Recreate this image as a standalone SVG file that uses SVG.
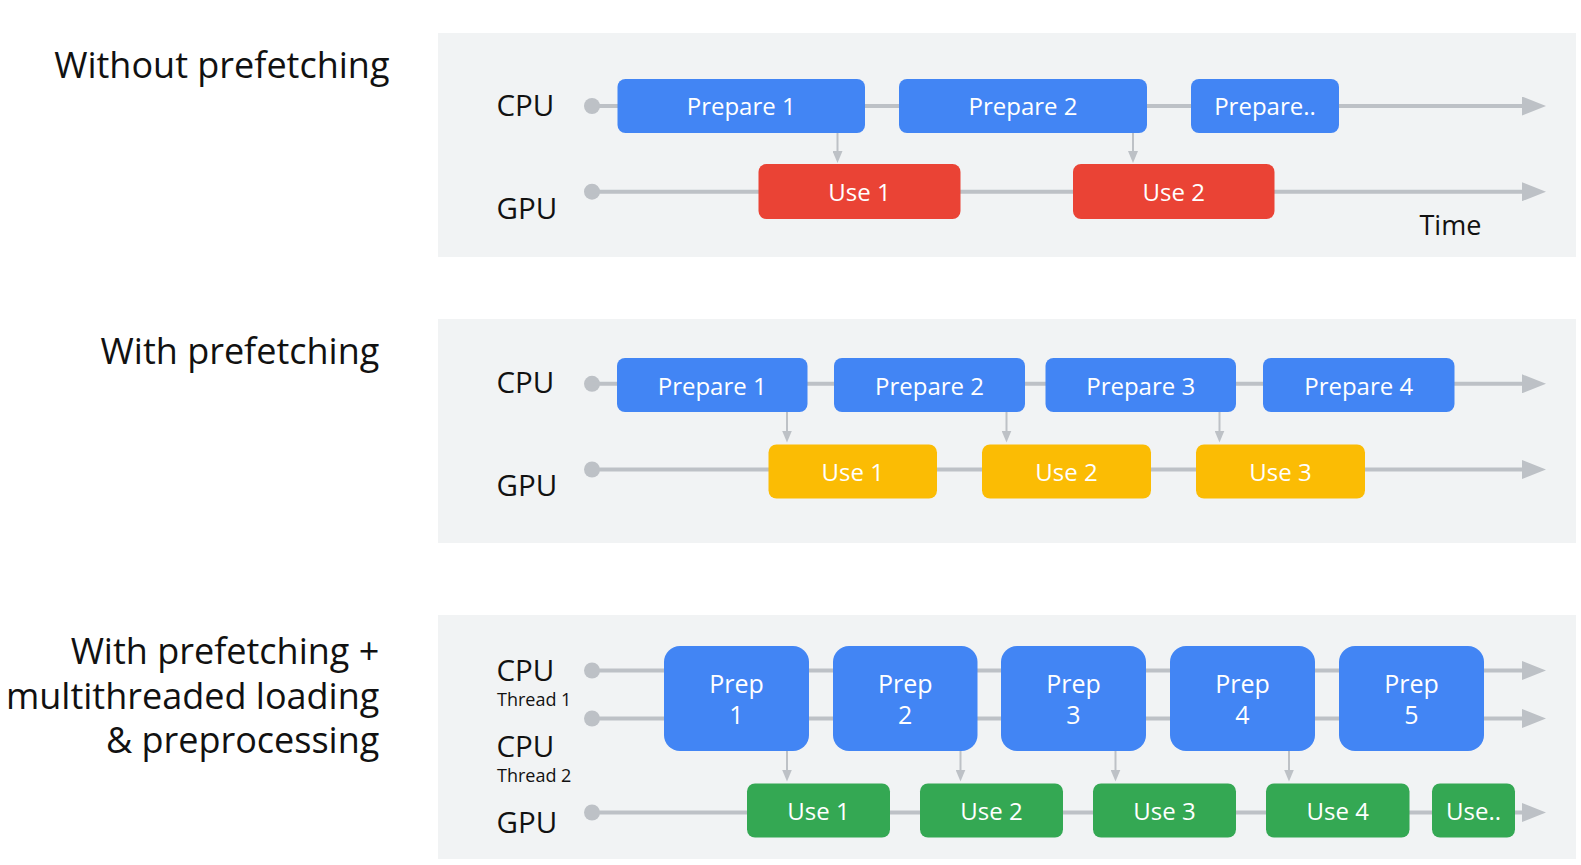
<svg xmlns="http://www.w3.org/2000/svg" width="1581" height="865" viewBox="0 0 1581 865">
<defs>
<style>
.panel{fill:#f1f3f4}
.title{font-family:"Open Sans","Noto Sans",sans-serif;font-size:36px;fill:#111;text-anchor:end}
.lbl{font-family:"Open Sans","Noto Sans",sans-serif;font-size:29.5px;fill:#111}
.sub{font-family:"Open Sans","Noto Sans",sans-serif;font-size:18px;fill:#111}
.bt{font-family:"Open Sans","Noto Sans",sans-serif;font-size:24px;fill:#fff;text-anchor:middle}
.pt{font-family:"Open Sans","Noto Sans",sans-serif;font-size:25px;fill:#fff;text-anchor:middle}
.blue{fill:#4285f4}
.red{fill:#ea4335}
.yellow{fill:#fbbc04}
.green{fill:#34a853}
.tl{stroke:#bdc1c6;stroke-width:4;fill:none;marker-end:url(#bigHead)}
.dot{fill:#bdc1c6}
.dn{stroke:#bdc1c6;stroke-width:2;fill:none;marker-end:url(#smallHead)}
</style>
<marker id="bigHead" viewBox="0 0 24 19" markerUnits="userSpaceOnUse" markerWidth="24" markerHeight="19" refX="2" refY="9.5" orient="auto">
<path d="M0,0 L24,9.5 L0,19 z" fill="#bdc1c6"/>
</marker>
<marker id="smallHead" viewBox="0 0 12 10" markerUnits="userSpaceOnUse" markerWidth="12" markerHeight="10" refX="1" refY="5" orient="auto">
<path d="M0,0 L12,5 L0,10 z" fill="#bdc1c6"/>
</marker>
</defs>
<rect width="1581" height="865" fill="#fff"/>

<!-- panels -->
<g id="panels">
<rect class="panel" x="438" y="33" width="1138" height="224"/>
<rect class="panel" x="438" y="319" width="1138" height="224"/>
<rect class="panel" x="438" y="615" width="1138" height="244"/>
</g>

<!-- titles -->
<g id="titles">
<text class="title" x="389.5" y="77.5">Without prefetching</text>
<text class="title" x="379.3" y="363.5">With prefetching</text>
<text class="title" x="379.3" y="664">With prefetching +</text>
<text class="title" x="379.3" y="708.5">multithreaded loading</text>
<text class="title" x="379.3" y="753">&amp; preprocessing</text>
</g>

<!-- row labels -->
<g id="row-labels">
<text class="lbl" x="496.5" y="115.7">CPU</text>
<text class="lbl" x="496.5" y="219">GPU</text>
<text class="lbl" x="1419.5" y="235" style="font-size:27px">Time</text>
<text class="lbl" x="496.5" y="393.3">CPU</text>
<text class="lbl" x="496.5" y="496">GPU</text>
<text class="lbl" x="496.5" y="680.7">CPU</text>
<text class="sub" x="497" y="706">Thread 1</text>
<text class="lbl" x="496.5" y="756.7">CPU</text>
<text class="sub" x="497" y="781.7">Thread 2</text>
<text class="lbl" x="496.5" y="832.7">GPU</text>
</g>

<!-- connectors -->
<g id="connectors">
<circle class="dot" cx="592" cy="106" r="8"/>
<line class="tl" x1="592" y1="106" x2="1524" y2="106"/>
<circle class="dot" cx="592" cy="191.7" r="8"/>
<line class="tl" x1="592" y1="191.7" x2="1524" y2="191.7"/>
<line class="dn" x1="837.5" y1="133" x2="837.5" y2="152"/>
<line class="dn" x1="1133" y1="133" x2="1133" y2="152"/>

<circle class="dot" cx="592" cy="383.8" r="8"/>
<line class="tl" x1="592" y1="383.8" x2="1524" y2="383.8"/>
<circle class="dot" cx="592" cy="469.5" r="8"/>
<line class="tl" x1="592" y1="469.5" x2="1524" y2="469.5"/>
<line class="dn" x1="787" y1="412" x2="787" y2="431.5"/>
<line class="dn" x1="1006.5" y1="412" x2="1006.5" y2="431.5"/>
<line class="dn" x1="1219.5" y1="412" x2="1219.5" y2="431.5"/>

<circle class="dot" cx="592" cy="670.5" r="8"/>
<line class="tl" x1="592" y1="670.5" x2="1524" y2="670.5"/>
<circle class="dot" cx="592" cy="718.5" r="8"/>
<line class="tl" x1="592" y1="718.5" x2="1524" y2="718.5"/>
<circle class="dot" cx="592" cy="812.5" r="8"/>
<line class="tl" x1="592" y1="812.5" x2="1524" y2="812.5"/>
<line class="dn" x1="787" y1="751" x2="787" y2="770.5"/>
<line class="dn" x1="960.5" y1="751" x2="960.5" y2="770.5"/>
<line class="dn" x1="1115.5" y1="751" x2="1115.5" y2="770.5"/>
<line class="dn" x1="1289" y1="751" x2="1289" y2="770.5"/>
</g>

<!-- panel 1 nodes -->
<g id="p1-prepare1"><rect class="blue" x="617.5" y="79" width="247.5" height="54" rx="8"/><text class="bt" x="741.2" y="114.7">Prepare 1</text></g>
<g id="p1-prepare2"><rect class="blue" x="899" y="79" width="248" height="54" rx="8"/><text class="bt" x="1023" y="114.7">Prepare 2</text></g>
<g id="p1-prepare-more"><rect class="blue" x="1191" y="79" width="148" height="54" rx="8"/><text class="bt" x="1265" y="114.7">Prepare..</text></g>
<g id="p1-use1"><rect class="red" x="758.5" y="164" width="202" height="55" rx="8"/><text class="bt" x="859.5" y="200.5">Use 1</text></g>
<g id="p1-use2"><rect class="red" x="1073" y="164" width="201.5" height="55" rx="8"/><text class="bt" x="1173.7" y="200.5">Use 2</text></g>

<!-- panel 2 nodes -->
<g id="p2-prepare1"><rect class="blue" x="617" y="358" width="190.5" height="54" rx="8"/><text class="bt" x="712.2" y="394.5">Prepare 1</text></g>
<g id="p2-prepare2"><rect class="blue" x="834" y="358" width="191" height="54" rx="8"/><text class="bt" x="929.5" y="394.5">Prepare 2</text></g>
<g id="p2-prepare3"><rect class="blue" x="1045.5" y="358" width="190.5" height="54" rx="8"/><text class="bt" x="1140.7" y="394.5">Prepare 3</text></g>
<g id="p2-prepare4"><rect class="blue" x="1263" y="358" width="191.5" height="54" rx="8"/><text class="bt" x="1358.7" y="394.5">Prepare 4</text></g>
<g id="p2-use1"><rect class="yellow" x="768.5" y="444.5" width="168.5" height="54" rx="8"/><text class="bt" x="852.7" y="481">Use 1</text></g>
<g id="p2-use2"><rect class="yellow" x="982" y="444.5" width="169" height="54" rx="8"/><text class="bt" x="1066.5" y="481">Use 2</text></g>
<g id="p2-use3"><rect class="yellow" x="1196" y="444.5" width="169" height="54" rx="8"/><text class="bt" x="1280.5" y="481">Use 3</text></g>

<!-- panel 3 nodes -->
<g id="p3-prep1"><rect class="blue" x="664" y="646" width="145" height="105" rx="16"/><text class="pt" x="736.5" y="692.7">Prep</text><text class="pt" x="736.5" y="724">1</text></g>
<g id="p3-prep2"><rect class="blue" x="833" y="646" width="144.5" height="105" rx="16"/><text class="pt" x="905.2" y="692.7">Prep</text><text class="pt" x="905.2" y="724">2</text></g>
<g id="p3-prep3"><rect class="blue" x="1001" y="646" width="145" height="105" rx="16"/><text class="pt" x="1073.5" y="692.7">Prep</text><text class="pt" x="1073.5" y="724">3</text></g>
<g id="p3-prep4"><rect class="blue" x="1170" y="646" width="145" height="105" rx="16"/><text class="pt" x="1242.5" y="692.7">Prep</text><text class="pt" x="1242.5" y="724">4</text></g>
<g id="p3-prep5"><rect class="blue" x="1339" y="646" width="145" height="105" rx="16"/><text class="pt" x="1411.5" y="692.7">Prep</text><text class="pt" x="1411.5" y="724">5</text></g>
<g id="p3-use1"><rect class="green" x="747" y="783.5" width="143" height="54" rx="8"/><text class="bt" x="818.5" y="820">Use 1</text></g>
<g id="p3-use2"><rect class="green" x="920" y="783.5" width="143" height="54" rx="8"/><text class="bt" x="991.5" y="820">Use 2</text></g>
<g id="p3-use3"><rect class="green" x="1093" y="783.5" width="143" height="54" rx="8"/><text class="bt" x="1164.5" y="820">Use 3</text></g>
<g id="p3-use4"><rect class="green" x="1266" y="783.5" width="143.5" height="54" rx="8"/><text class="bt" x="1337.7" y="820">Use 4</text></g>
<g id="p3-use-more"><rect class="green" x="1432" y="783.5" width="83" height="54" rx="8"/><text class="bt" x="1473.5" y="820">Use..</text></g>
</svg>
